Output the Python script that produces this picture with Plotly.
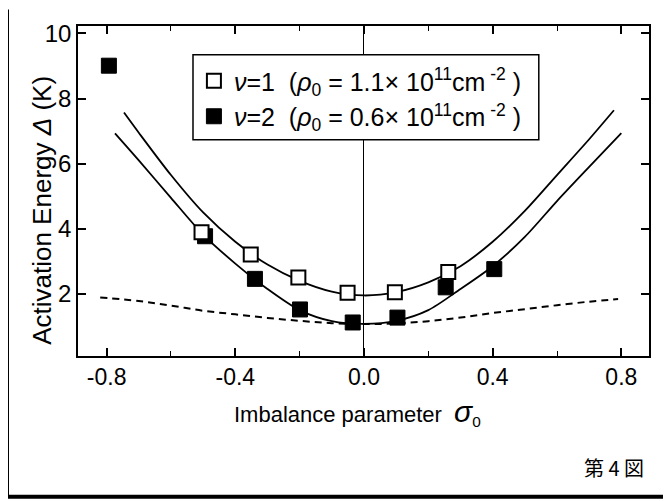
import plotly.graph_objects as go

# ---- data ----
sigma_nu1 = [-0.505, -0.352, -0.204, -0.051, 0.096, 0.262]
delta_nu1 = [3.89, 3.21, 2.50, 2.03, 2.05, 2.67]

sigma_nu2 = [-0.793, -0.494, -0.339, -0.199, -0.035, 0.104, 0.254, 0.405]
delta_nu2 = [9.01, 3.77, 2.46, 1.52, 1.12, 1.27, 2.20, 2.76]

fit1_sigma = [-0.746, -0.7, -0.6, -0.5, -0.4, -0.3, -0.2, -0.1, 0.0, 0.1, 0.2, 0.3, 0.4, 0.5, 0.6, 0.7, 0.777]
fit1_delta = [7.57, 6.95, 5.65, 4.50, 3.60, 2.90, 2.40, 2.07, 1.95, 2.05, 2.35, 2.85, 3.60, 4.55, 5.65, 6.75, 7.64]

fit2_sigma = [-0.774, -0.7, -0.6, -0.5, -0.4, -0.3, -0.2, -0.1, 0.0, 0.1, 0.2, 0.3, 0.4, 0.5, 0.6, 0.7, 0.80]
fit2_delta = [6.93, 6.10, 4.95, 3.82, 2.93, 2.15, 1.50, 1.16, 1.08, 1.17, 1.50, 2.15, 2.85, 3.75, 4.85, 5.90, 6.94]

dash_sigma = [-0.82, -0.7, -0.6, -0.5, -0.4, -0.3, -0.2, -0.1, 0.0, 0.1, 0.2, 0.3, 0.4, 0.5, 0.6, 0.7, 0.79]
dash_delta = [1.89, 1.78, 1.64, 1.48, 1.37, 1.26, 1.17, 1.10, 1.07, 1.09, 1.16, 1.27, 1.41, 1.53, 1.65, 1.76, 1.84]

x_tickvals = [-0.8, -0.4, 0.0, 0.4, 0.8]
x_ticktext = ["-0.8", "-0.4", "0.0", "0.4", "0.8"]
x_minorvals = [-0.6, -0.2, 0.2, 0.6]
y_tickvals = [2, 4, 6, 8, 10]

legend_nu1 = "<i>ν</i>=1  (<i>ρ</i><sub>0</sub> = 1.1× 10<sup>11</sup>cm<sup> -2</sup> )"
legend_nu2 = "<i>ν</i>=2  (<i>ρ</i><sub>0</sub> = 0.6× 10<sup>11</sup>cm<sup> -2</sup> )"

FONT = "Liberation Sans, Arial, sans-serif"

fig = go.Figure()

fig.add_trace(go.Scatter(x=dash_sigma, y=dash_delta, mode="lines",
                         line=dict(color="black", width=2, dash="7px,5px", shape="spline"),
                         showlegend=False, hoverinfo="skip"))
fig.add_trace(go.Scatter(x=fit1_sigma, y=fit1_delta, mode="lines",
                         line=dict(color="black", width=1.8, shape="spline", smoothing=0.8),
                         showlegend=False, hoverinfo="skip"))
fig.add_trace(go.Scatter(x=fit2_sigma, y=fit2_delta, mode="lines",
                         line=dict(color="black", width=1.8, shape="spline", smoothing=0.8),
                         showlegend=False, hoverinfo="skip"))
fig.add_trace(go.Scatter(x=sigma_nu2, y=delta_nu2, mode="markers", name=legend_nu2,
                         legendrank=2, legendgroup="b",
                         marker=dict(symbol="square", size=15, color="black",
                                     line=dict(color="black", width=1))))
fig.add_trace(go.Scatter(x=sigma_nu1, y=delta_nu1, mode="markers", name=legend_nu1,
                         legendrank=1, legendgroup="a",
                         marker=dict(symbol="square", size=14, color="white",
                                     line=dict(color="black", width=2))))

fig.update_layout(
    width=663, height=493,
    margin=dict(l=70, r=22, t=15, b=145),
    paper_bgcolor="white", plot_bgcolor="white",
    font=dict(family=FONT, color="black", size=22),
    showlegend=True,
    legend=dict(x=0.203, y=0.903, xanchor="left", yanchor="top",
                bgcolor="rgba(0,0,0,0)", borderwidth=0,
                font=dict(family=FONT, size=25, color="black"),
                tracegroupgap=0, itemwidth=30),
    xaxis=dict(range=[-0.889, 0.886], tickmode="array", tickvals=x_tickvals, ticktext=x_ticktext,
               ticks="inside", ticklen=8, tickwidth=1.5, tickcolor="black",
               minor=dict(tickmode="array", tickvals=x_minorvals, ticks="inside",
                          ticklen=5, tickwidth=1.2, tickcolor="black"),
               showline=True, linecolor="black", linewidth=1.5, mirror="ticks",
               showgrid=False, zeroline=True, zerolinecolor="black", zerolinewidth=1.3,
               tickfont=dict(size=23), fixedrange=True),
    yaxis=dict(range=[0.09, 10.23], tickmode="array", tickvals=y_tickvals,
               ticks="inside", ticklen=8, tickwidth=1.5, tickcolor="black",
               showline=True, linecolor="black", linewidth=1.5, mirror="ticks",
               showgrid=False, zeroline=False, tickfont=dict(size=24), fixedrange=True),
    shapes=[
        dict(type="rect", xref="paper", yref="paper", x0=0.2014, x1=0.807, y0=0.655, y1=0.913,
             line=dict(color="black", width=1.5), fillcolor="white", layer="above"),
        dict(type="line", xref="paper", yref="paper", x0=-0.13, x1=1.04, y0=-0.4264, y1=-0.4264,
             line=dict(color="black", width=4)),
        dict(type="line", xref="paper", yref="paper", x0=-0.1217, x1=-0.1217, y0=-0.43, y1=1.05,
             line=dict(color="black", width=1)),
    ],
    annotations=[
        dict(text="Activation Energy <i>Δ</i> (K)", xref="paper", yref="paper",
             x=-0.063, y=0.44, textangle=-90, showarrow=False,
             xanchor="center", yanchor="middle", font=dict(size=26)),
        dict(text="Imbalance parameter  <span style='font-size:30px'><i>σ</i></span><sub>0</sub>",
             xref="paper", yref="paper", x=0.489, y=-0.17, showarrow=False,
             xanchor="center", yanchor="middle", font=dict(size=22)),
        dict(text="第 4 図", xref="paper", yref="paper", x=0.939, y=-0.339, showarrow=False,
             xanchor="center", yanchor="middle",
             font=dict(family="Noto Sans CJK JP", size=20)),
    ],
)

fig.write_html("out.html")
